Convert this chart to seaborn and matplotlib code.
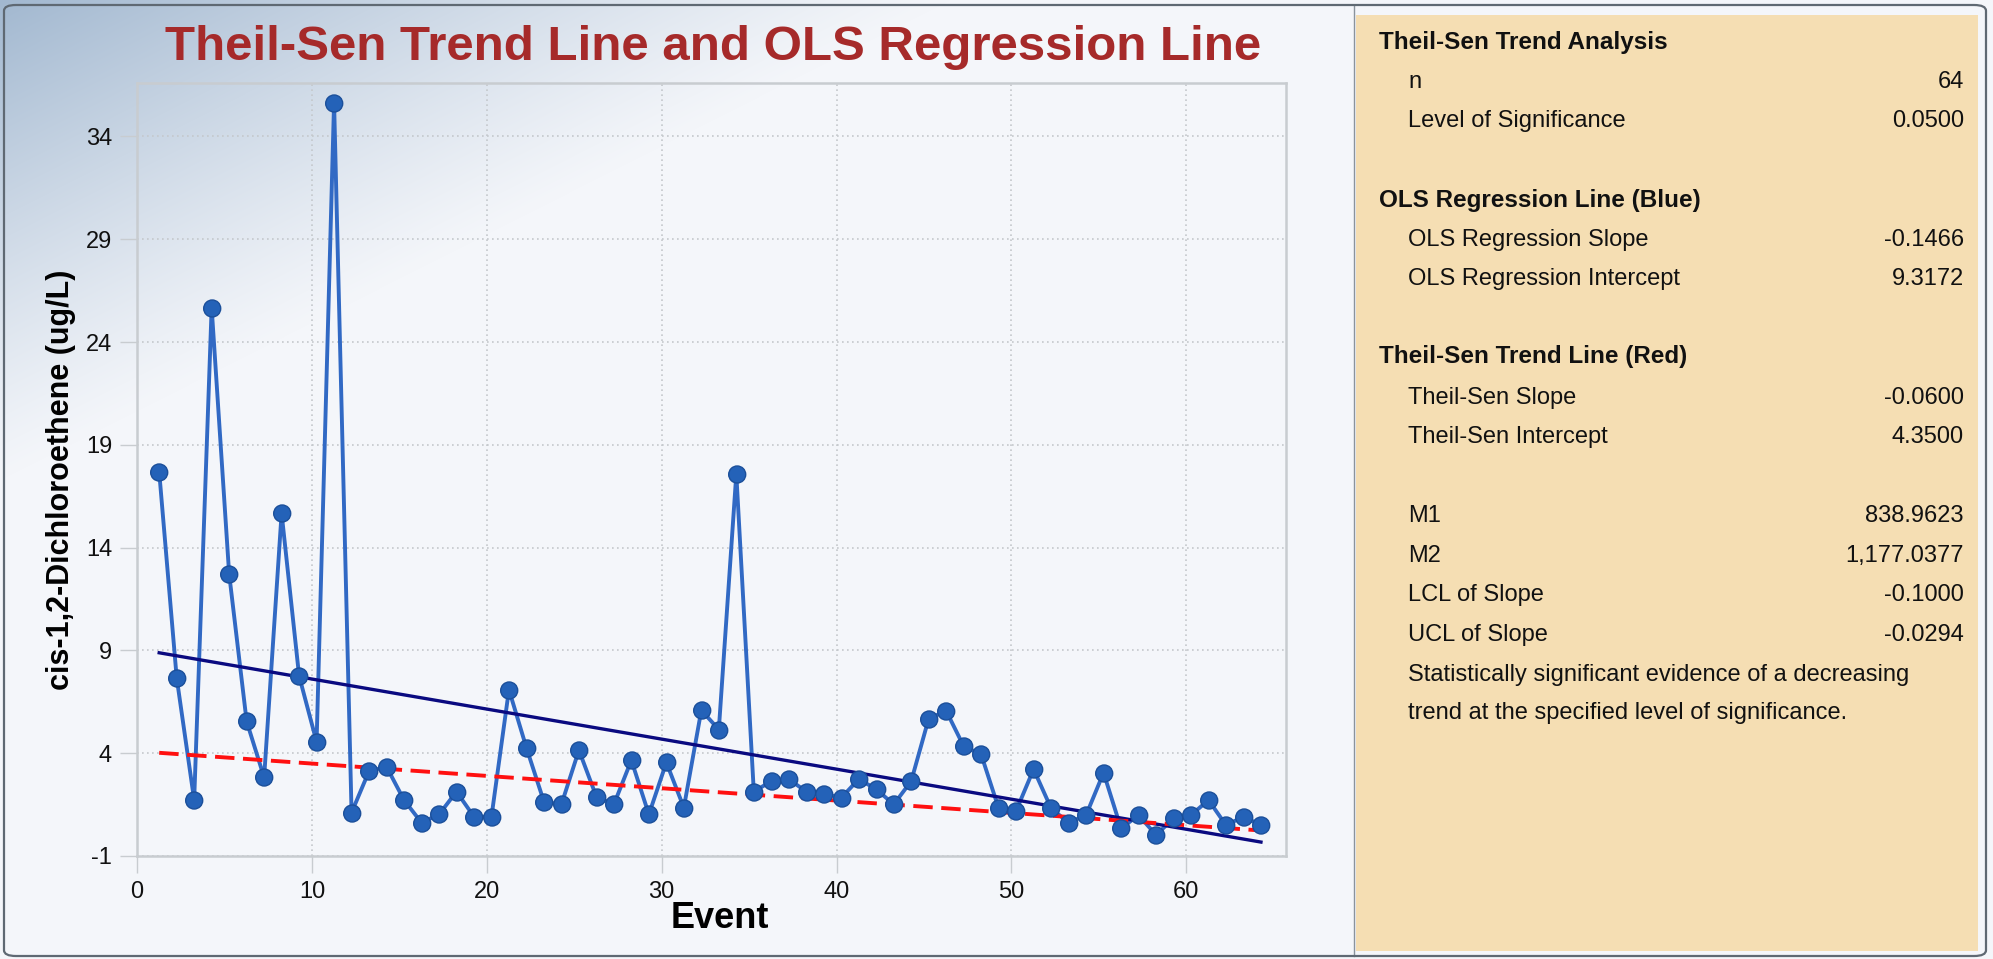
import numpy as np
import pandas as pd
import matplotlib
matplotlib.use("Agg")
import matplotlib.pyplot as plt
from matplotlib.patches import FancyBboxPatch, Rectangle
from matplotlib.transforms import ScaledTranslation
import seaborn as sns

# ---------------- data ----------------
event = list(range(1, 65))
concentration = [
    17.69, 7.67, 1.72, 25.67, 12.72, 5.55, 2.82, 15.67, 7.76, 4.55,
    35.65, 1.11, 3.13, 3.34, 1.72, 0.62, 1.02, 2.13, 0.91, 0.91,
    7.09, 4.26, 1.64, 1.51, 4.15, 1.88, 1.51, 3.66, 1.02, 3.55,
    1.35, 6.09, 5.15, 17.58, 2.13, 2.64, 2.74, 2.13, 2.04, 1.83,
    2.74, 2.25, 1.51, 2.64, 5.68, 6.06, 4.34, 3.94, 1.32, 1.20,
    3.22, 1.32, 0.62, 0.99, 3.05, 0.34, 0.99, 0.02, 0.83, 0.99,
    1.72, 0.50, 0.91, 0.50,
]
x_ticks = [0, 10, 20, 30, 40, 50, 60]
y_ticks = [-1, 4, 9, 14, 19, 24, 29, 34]

title_text = "Theil-Sen Trend Line and OLS Regression Line"
x_label = "Event"
y_label = "cis-1,2-Dichloroethene (ug/L)"

# stats panel
panel_headings = ["Theil-Sen Trend Analysis", "OLS Regression Line (Blue)", "Theil-Sen Trend Line (Red)"]
panel_labels = ["n", "Level of Significance",
                "OLS Regression Slope", "OLS Regression Intercept",
                "Theil-Sen Slope", "Theil-Sen Intercept",
                "M1", "M2", "LCL of Slope", "UCL of Slope"]
panel_values = ["64", "0.0500", "-0.1466", "9.3172", "-0.0600", "4.3500",
                "838.9623", "1,177.0377", "-0.1000", "-0.0294"]
panel_note = ["Statistically significant evidence of a decreasing",
              "trend at the specified level of significance."]

df = pd.DataFrame({"Event": event, "Conc": concentration})

# Theil-Sen estimate from the data (Conover intercept)
xa = np.array(event, float)
ya = np.array(concentration, float)
ii, jj = np.triu_indices(len(xa), k=1)
ts_slope = np.median((ya[jj] - ya[ii]) / (xa[jj] - xa[ii]))
ts_int = np.median(ya) - ts_slope * np.median(xa)
ts_df = pd.DataFrame({"Event": [xa.min(), xa.max()]})
ts_df["Fit"] = ts_int + ts_slope * ts_df["Event"]

# ---------------- figure ----------------
W, H = 1993, 959
plt.rcParams['font.family'] = ['Liberation Sans', 'DejaVu Sans']
plt.rcParams['axes.unicode_minus'] = False
fig = plt.figure(figsize=(W / 100, H / 100), dpi=100)
fig.patch.set_facecolor("#f4f6fa")

def fx(px):
    return px / W

def fy(py):
    return 1 - py / H

# gradient background for left panel
left_w = 1352
bg = fig.add_axes([0, 0, fx(left_w), 1], zorder=-10)
Xg, Yg = np.meshgrid(np.arange(left_w), np.arange(H))
g = np.clip(1 - (Xg / 950 + Yg / 480), 0, 1) ** 1.15
c0 = np.array([0xf4, 0xf6, 0xfa]) / 255
c1 = np.array([0xa2, 0xb8, 0xd0]) / 255
img = c0[None, None, :] + g[..., None] * (c1 - c0)[None, None, :]
bg.imshow(img, aspect="auto", extent=[0, 1, 0, 1], origin="upper")
bg.axis("off")

# right beige panel
fig.patches.append(Rectangle((fx(1356), fy(951)), fx(1978) - fx(1356), fy(15) - fy(951),
                             transform=fig.transFigure, facecolor="#f5deb3",
                             edgecolor="none", zorder=-5))
# divider line
fig.lines.append(plt.Line2D([fx(1354), fx(1354)], [fy(5), fy(956)], transform=fig.transFigure,
                            color="#8a939c", lw=1.0, zorder=-4))
# outer window border
fig.patches.append(FancyBboxPatch((fx(4), fy(956)), fx(1986) - fx(4), fy(5) - fy(956),
                                  boxstyle="round,pad=0,rounding_size=0.006",
                                  transform=fig.transFigure, facecolor="none",
                                  edgecolor="#5f6973", lw=1.6, zorder=10))

# ---------------- main axes ----------------
ax = fig.add_axes([fx(137), fy(856), fx(1286) - fx(137), fy(83) - fy(856)])
ax.set_facecolor("none")

sns.lineplot(data=df, x="Event", y="Conc", ax=ax, color="#3169c4", lw=2.8, zorder=2)
sns.regplot(data=df, x="Event", y="Conc", ax=ax, scatter=False, ci=None,
            line_kws=dict(color="#0a0a80", lw=2.4, zorder=3))
sns.lineplot(data=ts_df, x="Event", y="Fit", ax=ax, color="#ff1010", lw=2.8,
             dashes=False, zorder=4)
ax.lines[-1].set_dashes([5, 2.2])
sns.scatterplot(data=df, x="Event", y="Conc", ax=ax, s=150, color="#2462b8",
                edgecolor="#1b4f9a", linewidth=1.0, zorder=5)

# the reference chart renders its series a few pixels right of the tick grid
shift = ScaledTranslation(4.7 / 100, 0, fig.dpi_scale_trans)
for art in list(ax.lines) + list(ax.collections):
    art.set_transform(art.get_transform() + shift)

ax.set_xlim(0, 65.7)
ax.set_ylim(-1, 36.6)
ax.set_xticks(x_ticks)
ax.set_yticks(y_ticks)
ax.grid(True, color="#c4c8cc", linestyle=(0, (1, 2)), lw=1.2)
ax.set_axisbelow(True)
for s in ax.spines.values():
    s.set_color("#c8ccd0")
    s.set_linewidth(1.8)
ax.tick_params(axis="both", length=12, width=1.0, color="#c8ccd0",
               labelsize=17, labelcolor="#111111", pad=6)
ax.set_xlabel(x_label, fontsize=26, fontweight="bold", labelpad=4)
ax.set_ylabel(y_label, fontsize=22, fontweight="bold", labelpad=14)
ax.xaxis.set_label_coords((fx(720) - fx(137)) / (fx(1286) - fx(137)),
                          (fy(918) - fy(856)) / (fy(83) - fy(856)))
ax.yaxis.set_label_coords((fx(61) - fx(137)) / (fx(1286) - fx(137)),
                          (fy(480) - fy(856)) / (fy(83) - fy(856)))
ax.xaxis.label.set_va("center")
ax.yaxis.label.set_va("center")

fig.text(fx(713), fy(48), title_text, ha="center", va="center",
         fontsize=35.5, fontweight="bold", color="#a62a2a")

# ---------------- stats panel text ----------------
head_y = [42, 201, 357]
for t, y in zip(panel_headings, head_y):
    fig.text(fx(1379), fy(y), t, ha="left", va="center", fontsize=17.5,
             fontweight="bold", color="#111111")
row_y = [82, 121, 240, 279, 398, 437, 516, 556, 595, 635]
for lab, val, y in zip(panel_labels, panel_values, row_y):
    fig.text(fx(1408), fy(y), lab, ha="left", va="center", fontsize=17, color="#111111")
    fig.text(fx(1964), fy(y), val, ha="right", va="center", fontsize=17, color="#111111")
for t, y in zip(panel_note, [675, 713]):
    fig.text(fx(1408), fy(y), t, ha="left", va="center", fontsize=17, color="#111111")

fig.savefig("out.png", dpi=100, facecolor=fig.get_facecolor())
